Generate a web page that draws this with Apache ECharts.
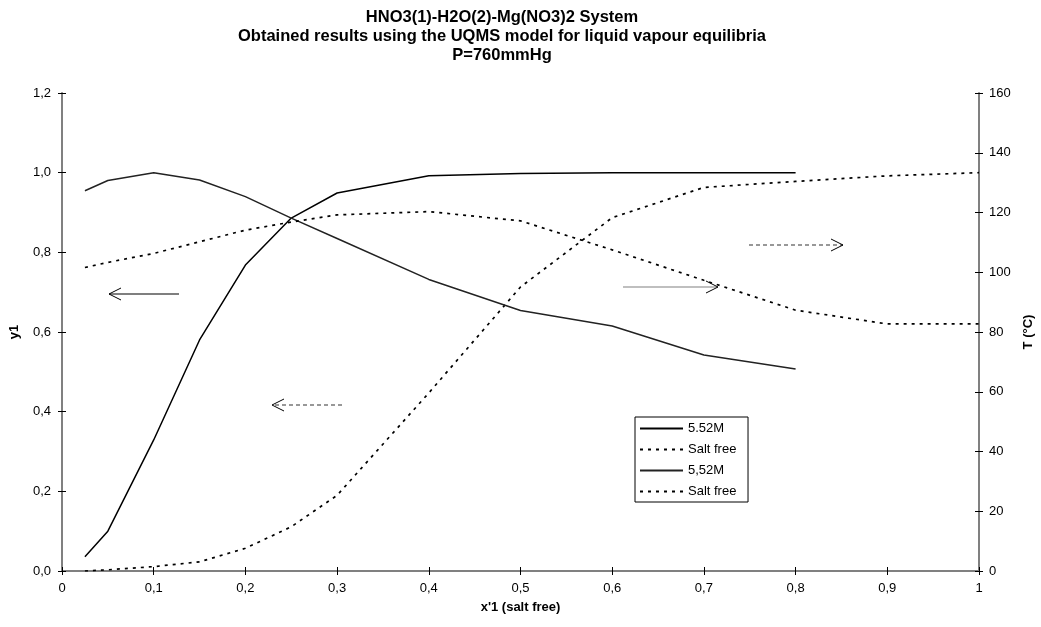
<!DOCTYPE html>
<html>
<head>
<meta charset="utf-8">
<script src="https://cdn.jsdelivr.net/npm/echarts@6/dist/echarts.min.js"></script>
<style>
  html, body { margin: 0; padding: 0; background: #fff; }
  #chart { width: 1041px; height: 627px; }
</style>
</head>
<body>
<div id="chart"></div>
<script>
// x'1 points of the 5.52M Mg(NO3)2 runs
var xSalt = [0.025, 0.05, 0.1, 0.15, 0.2, 0.25, 0.3, 0.4, 0.5, 0.6, 0.7, 0.8];
var y1Salt = [0.036, 0.10, 0.329, 0.58, 0.768, 0.886, 0.949, 0.992, 0.998, 1.0, 1.0, 1.0];
var tSalt = [127.3, 130.7, 133.3, 130.9, 125.3, 118.1, 111.3, 97.6, 87.2, 82.0, 72.3, 67.6];

// salt free system
var xFree = [0.025, 0.05, 0.1, 0.15, 0.2, 0.25, 0.3, 0.4, 0.5, 0.6, 0.7, 0.8, 0.9, 1.0];
var y1Free = [0.0, 0.003, 0.011, 0.023, 0.057, 0.111, 0.19, 0.447, 0.713, 0.887, 0.963, 0.978, 0.992, 1.0];
var tFree = [101.6, 103.3, 106.3, 110.2, 114.1, 116.8, 119.2, 120.3, 117.2, 107.5, 97.3, 87.3, 82.7, 82.7];

var legendNames = ['5.52M', 'Salt free', '5,52M', 'Salt free '];

function pairs(xs, ys) {
  return xs.map(function (x, i) { return [x, ys[i]]; });
}
function comma(v) { return String(v).replace('.', ','); }

var chart = echarts.init(document.getElementById('chart'));
var font = 'Liberation Sans, Arial, sans-serif';

// open arrow head helper
function arrow(x1, x2, y, color, dash) {
  var dir = x2 > x1 ? 1 : -1;
  return [{
    type: 'line',
    shape: { x1: x1, y1: y, x2: x2, y2: y },
    style: { stroke: color, lineWidth: 1.2, lineDash: dash ? [4, 3] : null }
  }, {
    type: 'polyline',
    shape: { points: [[x2 - dir * 12, y - 6], [x2, y], [x2 - dir * 12, y + 6]] },
    style: { stroke: '#000', lineWidth: 1, fill: null }
  }];
}

var baseX = {
  type: 'value', min: 0, max: 1, interval: 0.1, position: 'bottom',
  axisLine: { onZero: false, lineStyle: { color: '#808080', width: 2 } },
  axisTick: { lineStyle: { color: '#000' }, length: 4 },
  splitLine: { show: false }
};
var baseY = {
  type: 'value',
  axisLine: { show: true, onZero: false, lineStyle: { color: '#808080', width: 2 } },
  axisTick: { show: true, lineStyle: { color: '#000' }, length: 4 },
  splitLine: { show: false }
};

var option = {
  backgroundColor: '#fff',
  animation: false,
  title: {
    text: 'HNO3(1)-H2O(2)-Mg(NO3)2 System\nObtained results using the UQMS model for liquid vapour equilibria\nP=760mmHg',
    left: 497, top: 3, textAlign: 'center',
    textStyle: { fontFamily: font, fontSize: 16.5, fontWeight: 'bold', color: '#000', lineHeight: 19 }
  },
  legend: {
    data: legendNames,
    orient: 'vertical',
    left: 635, top: 417,
    backgroundColor: '#fff',
    borderColor: '#000', borderWidth: 1,
    padding: [5, 8, 4, 4],
    itemWidth: 43, itemHeight: 14, itemGap: 8,
    itemStyle: { opacity: 0 },
    textStyle: { fontFamily: font, fontSize: 13, color: '#000' }
  },
  grid: { left: 62, right: 62, top: 93, bottom: 56, outerBoundsMode: 'none', containLabel: false },
  xAxis: [
    Object.assign({}, baseX, {
      name: "x'1 (salt free)", nameLocation: 'middle', nameGap: 30,
      nameTextStyle: { fontFamily: font, fontSize: 13, fontWeight: 'bold', color: '#000' },
      axisLabel: { fontFamily: font, fontSize: 13, color: '#000', margin: 11, formatter: comma }
    }),
    Object.assign({}, baseX, {
      axisLine: { show: false, onZero: false },
      axisTick: { inside: true, lineStyle: { color: '#000' }, length: 4 },
      axisLabel: { show: false }
    })
  ],
  yAxis: [
    Object.assign({}, baseY, {
      min: 0, max: 1.2, interval: 0.2, position: 'left',
      name: 'y1', nameLocation: 'middle', nameGap: 41,
      nameTextStyle: { fontFamily: font, fontSize: 13, fontWeight: 'bold', color: '#000' },
      axisLabel: { fontFamily: font, fontSize: 13, color: '#000', margin: 11,
        formatter: function (v) { return v.toFixed(1).replace('.', ','); } }
    }),
    Object.assign({}, baseY, {
      min: 0, max: 160, interval: 20, position: 'right',
      name: 'T (°C)', nameLocation: 'middle', nameGap: 35,
      nameTextStyle: { fontFamily: font, fontSize: 13, fontWeight: 'bold', color: '#000' },
      axisLabel: { fontFamily: font, fontSize: 13, color: '#000', margin: 10 }
    }),
    Object.assign({}, baseY, {
      min: 0, max: 1.2, interval: 0.2, position: 'left',
      axisLine: { show: false, onZero: false }, axisLabel: { show: false },
      axisTick: { show: true, inside: true, lineStyle: { color: '#000' }, length: 4 }
    }),
    Object.assign({}, baseY, {
      min: 0, max: 160, interval: 20, position: 'right',
      axisLine: { show: false, onZero: false }, axisLabel: { show: false },
      axisTick: { show: true, inside: true, lineStyle: { color: '#000' }, length: 4 }
    })
  ],
  series: [
    {
      name: legendNames[0], type: 'line', yAxisIndex: 0, symbol: 'none',
      data: pairs(xSalt, y1Salt),
      lineStyle: { color: '#000', width: 1.5 }, itemStyle: { color: '#000' }
    },
    {
      name: legendNames[1], type: 'line', yAxisIndex: 0, symbol: 'none',
      data: pairs(xFree, y1Free),
      lineStyle: { color: '#000', width: 1.7, type: [3, 5] }, itemStyle: { color: '#000' }
    },
    {
      name: legendNames[2], type: 'line', yAxisIndex: 1, symbol: 'none',
      data: pairs(xSalt, tSalt),
      lineStyle: { color: '#222', width: 1.5 }, itemStyle: { color: '#222' }
    },
    {
      name: legendNames[3], type: 'line', yAxisIndex: 1, symbol: 'none',
      data: pairs(xFree, tFree),
      lineStyle: { color: '#000', width: 1.7, type: [3, 5] }, itemStyle: { color: '#000' }
    }
  ],
  graphic: [].concat(
    arrow(179, 109, 294, '#000', false),
    arrow(342, 272, 405, '#333', true),
    arrow(623, 718, 287, '#808080', false),
    arrow(749, 843, 245, '#333', true)
  )
};

chart.setOption(option);
</script>
</body>
</html>
